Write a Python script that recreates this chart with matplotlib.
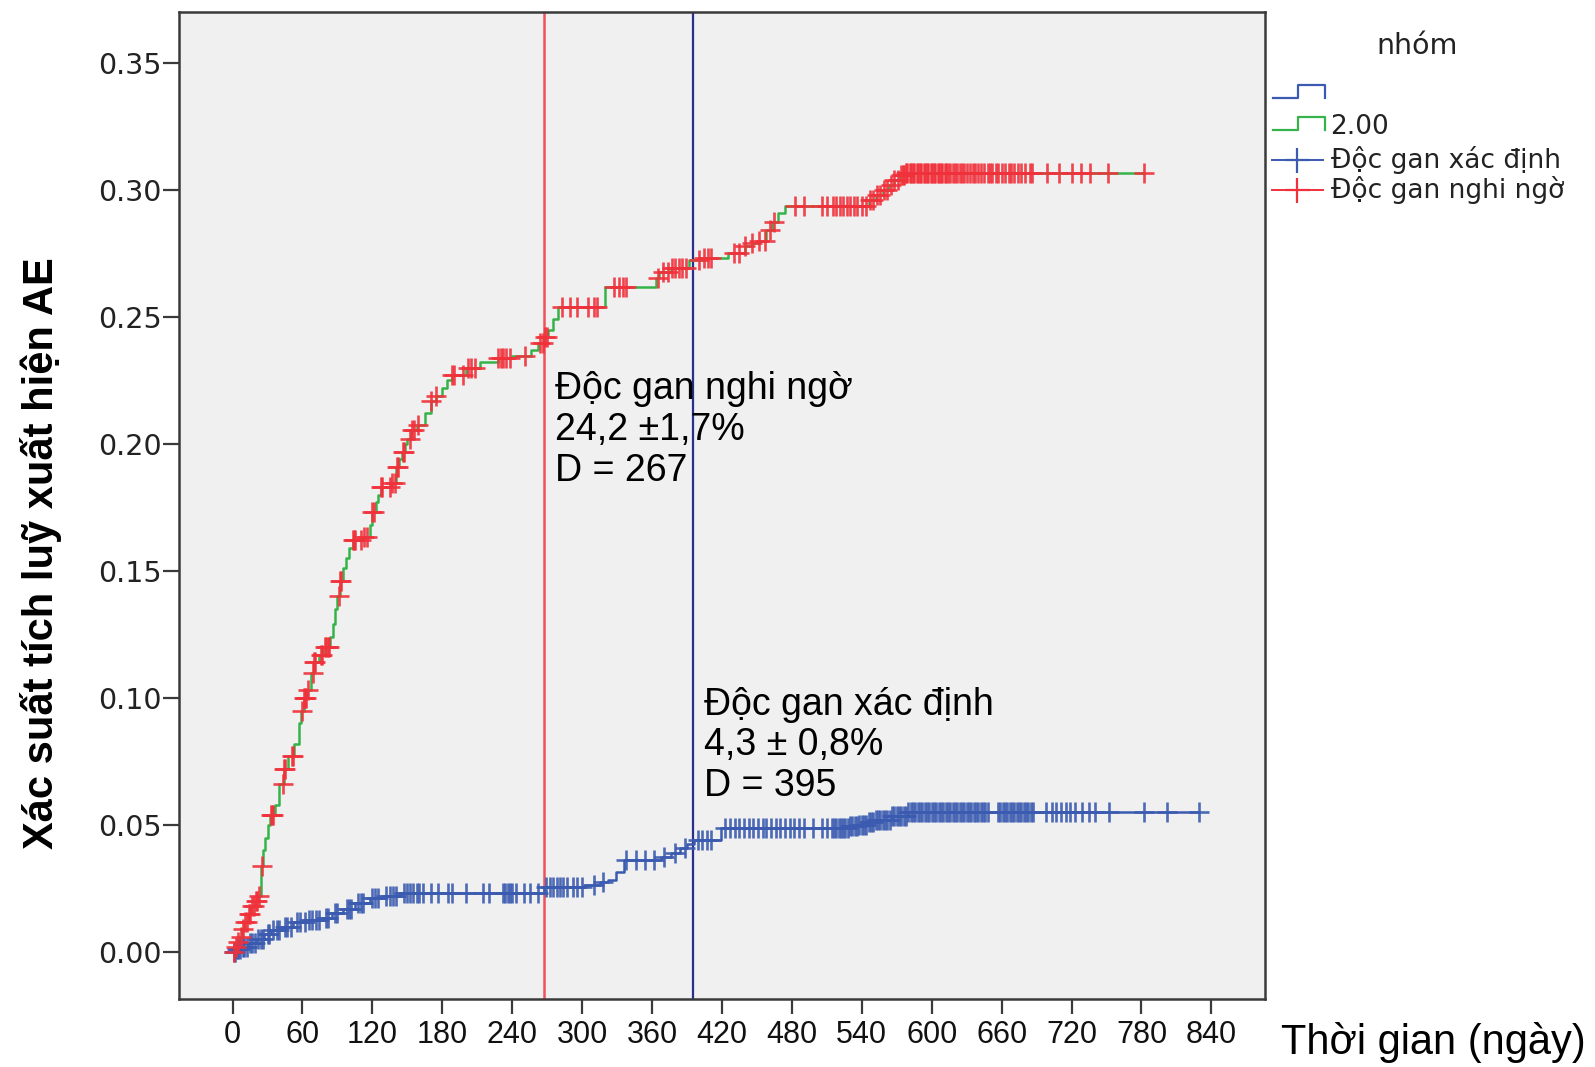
import numpy as np
import matplotlib.pyplot as plt
from matplotlib.lines import Line2D

# --- data ---
# "Độc gan nghi ngờ" (group 2.00): event times and cumulative probability
red_t = [0, 2, 4, 6, 8, 10, 13, 16, 19, 22, 24, 26, 28, 30, 32, 36, 40, 44, 48, 53,
         57, 59, 61, 64, 67, 70, 74, 78, 84, 86, 88, 90, 92, 95, 97, 100, 103, 112,
         118, 120, 123, 125, 127, 137, 140, 143, 145, 148, 150, 153, 158, 165, 170,
         175, 180, 184, 188, 200, 212, 228, 240, 256, 262, 267, 271, 275, 279, 320,
         363, 366, 376, 392, 405, 425, 440, 446, 452, 458, 463, 468, 474, 546, 552,
         558, 563, 568, 573, 577]
red_p = [0, .002, .004, .006, .009, .012, .015, .018, .020, .022, .034, .040, .045,
         .050, .054, .058, .066, .072, .077, .082, .090, .095, .100, .103, .110, .114,
         .117, .120, .124, .129, .135, .140, .146, .151, .155, .159, .162, .1635, .168,
         .173, .177, .180, .183, .1845, .191, .194, .197, .200, .202, .2055, .2075,
         .212, .2167, .219, .222, .225, .2272, .2298, .2324, .2337, .2344, .237, .2396,
         .2422, .2449, .249, .254, .2619, .2652, .2678, .2692, .2724, .2731, .2751,
         .2777, .279, .280, .284, .2875, .291, .2935, .296, .298, .300, .302, .304,
         .306, .3067]
red_cens = [1, 3, 5, 7, 9, 11, 12, 14, 15, 17, 18, 20, 21, 23, 25, 33, 34, 35, 43, 44,
            45, 51, 52, 60, 61, 62, 63, 65, 69, 70, 71, 76, 77, 79, 80, 82, 83, 91, 92,
            93, 103, 104, 105, 110, 113, 115, 120, 121, 127, 128, 135, 137, 139, 141,
            142, 146, 147, 152, 154, 156, 159, 170, 175, 188, 190, 198, 202, 205, 208,
            228, 230, 232, 235, 238, 251, 264, 266, 268, 270, 283, 290, 296, 305, 310,
            313, 327, 332, 335, 338, 365, 369, 374, 377, 380, 383, 386, 389, 400, 405,
            408, 411, 430, 435, 440, 446, 452, 457, 461, 465, 483, 490, 506, 510, 515,
            518, 521, 524, 527, 530, 533, 536, 540, 544, 547, 550, 553, 556, 559, 562,
            565, 568, 571, 574, 575, 576, 578, 579, 581, 582, 584, 585, 587, 588, 590,
            591, 593, 594, 596, 597, 599, 600, 602, 603, 605, 606, 608, 609, 611, 612,
            614, 616, 618, 620, 622, 624, 626, 628, 630, 633, 635, 637, 640, 642, 645,
            648, 650, 652, 655, 657, 660, 663, 666, 668, 671, 674, 677, 680, 684, 686,
            699, 709, 720, 728, 736, 751, 782]

# "Độc gan xác định"
blue_t = [0, 3, 8, 13, 20, 27, 33, 42, 52, 65, 78, 85, 95, 105, 118, 130, 144, 267,
          302, 315, 322, 329, 336, 368, 376, 384, 390, 396, 419, 522, 530, 538, 546,
          552, 566, 580]
blue_p = [0, .001, .002, .0034, .005, .007, .0087, .010, .0119, .0125, .0135, .0152,
          .017, .0192, .0211, .022, .0231, .0257, .0264, .0275, .0283, .0316, .0362,
          .0375, .039, .041, .0425, .0441, .0487, .049, .0495, .050, .051, .052, .0535,
          .0552]
blue_cens = [1, 2, 4, 5, 6, 9, 10, 12, 15, 17, 19, 22, 24, 26, 30, 31, 35, 38, 40, 45,
             47, 50, 55, 58, 62, 66, 68, 72, 74, 80, 82, 88, 90, 98, 100, 102, 108, 110,
             112, 120, 122, 125, 132, 135, 138, 140, 147, 150, 152, 155, 158, 160, 163,
             170, 176, 185, 188, 200, 215, 220, 232, 234, 236, 238, 240, 243, 250, 255,
             262, 269, 272, 275, 278, 281, 284, 287, 292, 296, 300, 310, 318, 338, 346,
             354, 362, 370, 380, 388, 399, 403, 407, 411, 423, 427, 431, 435, 439, 443,
             447, 451, 455, 458, 462, 466, 470, 474, 478, 482, 486, 490, 498, 506, 510,
             514, 516, 518, 520, 522, 524, 526, 528, 530, 532, 534, 536, 538, 540, 542,
             544, 546, 548, 550, 552, 554, 556, 558, 560, 562, 564, 566, 568, 570, 572,
             574, 576, 578, 580, 582, 584, 586, 588, 590, 592, 594, 596, 598, 600, 602,
             604, 606, 608, 610, 612, 614, 616, 618, 620, 622, 624, 626, 628, 630, 632,
             634, 636, 638, 640, 642, 644, 646, 648, 657, 659, 661, 663, 665, 667, 669,
             671, 673, 675, 677, 679, 681, 683, 685, 687, 698, 703, 707, 711, 715, 719,
             723, 729, 735, 740, 752, 782, 802, 829]

median_days = [267, 395]
x_ticks = np.arange(0, 841, 60)
y_ticks = np.arange(0, 0.351, 0.05)

RED = '#f0313b'
GREEN = '#35b34a'
BLUE = '#3b5bb0'
NAVY = '#2a2f8c'
FRAME = '#3a3a3a'


def step_value(t_ev, p_ev, t):
    idx = np.searchsorted(t_ev, t, side='right') - 1
    return np.asarray(p_ev)[idx]


fig = plt.figure(figsize=(15.95, 10.67), dpi=100)
fig.patch.set_facecolor('white')
ax = fig.add_axes([0.1122, 0.0637, 0.6809, 0.9251])
ax.set_facecolor('#f0f0f0')

# blue curve
bt = np.append(blue_t, blue_cens[-1])
bp = np.append(blue_p, blue_p[-1])
ax.step(bt, bp, where='post', color=BLUE, lw=1.8, zorder=3)
ax.plot(blue_cens, step_value(blue_t, blue_p, blue_cens), ls='none', marker='+',
        ms=15, mew=1.9, color=BLUE, alpha=0.9, zorder=4)

# red / green curve
rt = np.append(red_t, red_cens[-1])
rp = np.append(red_p, red_p[-1])
ax.step(rt, rp, where='post', color=GREEN, lw=1.8, zorder=3)
ax.plot(red_cens, step_value(red_t, red_p, red_cens), ls='none', marker='+',
        ms=15, mew=1.9, color=RED, alpha=0.9, zorder=4)

ax.axvline(median_days[0], color='#f0505a', lw=1.8, zorder=2)
ax.axvline(median_days[1], color=NAVY, lw=1.6, zorder=2)

ax.text(277, 0.2054, 'Độc gan nghi ngờ\n24,2 ±1,7%\nD = 267', ha='left', va='center',
        fontsize=27, family='Liberation Sans', linespacing=1.17, zorder=5)
ax.text(405, 0.0813, 'Độc gan xác định\n4,3 ± 0,8%\nD = 395', ha='left', va='center',
        fontsize=27, family='Liberation Sans', linespacing=1.17, zorder=5)

ax.set_xlim(-46, 886)
ax.set_ylim(-0.0185, 0.370)
ax.set_xticks(x_ticks)
ax.set_yticks(y_ticks)
ax.set_yticklabels([f'{v:.2f}' for v in y_ticks], family='DejaVu Sans', fontsize=20.5)
ax.set_xticklabels([str(v) for v in x_ticks], family='Liberation Sans', fontsize=22)
ax.tick_params(axis='y', length=11.5, width=1.6, color=FRAME, pad=1, labelcolor='#222222')
ax.tick_params(axis='x', length=11, width=1.6, color=FRAME, pad=4, labelcolor='#111111')
for s in ax.spines.values():
    s.set_color(FRAME)
    s.set_linewidth(1.8)

fig.text(0.0255, 0.4814, 'Xác suất tích luỹ xuất hiện AE', rotation=90, ha='center',
         va='center', fontsize=30, fontweight='bold', family='Liberation Sans')
fig.text(0.8988, 0.0229, 'Thời gian (ngày)', ha='center', va='center', fontsize=30,
         family='Liberation Sans')

# legend drawn by hand (SPSS style)
W, H = 1595.0, 1067.0


def fx(px):
    return px / W


def fy(py):
    return 1 - py / H


fig.text(fx(1417), fy(46), 'nhóm', ha='center', va='center', fontsize=20.5,
         family='DejaVu Sans', color='#222222')
for (ylow, yhigh, col) in [(98, 85, BLUE), (130, 117, GREEN)]:
    xs = [1273, 1298, 1298, 1325, 1325]
    ys = [ylow, ylow, yhigh, yhigh, ylow]
    fig.add_artist(Line2D([fx(v) for v in xs], [fy(v) for v in ys], color=col, lw=1.6))
for (yy, col) in [(160, BLUE), (190, RED)]:
    fig.add_artist(Line2D([fx(1272), fx(1323)], [fy(yy), fy(yy)], color=col, lw=1.4))
    fig.add_artist(Line2D([fx(1297)], [fy(yy)], marker='+', ms=18, mew=1.6, color=col))
fig.text(fx(1330), fy(127), '2.00', ha='left', va='center', fontsize=19,
         family='DejaVu Sans', color='#222222')
fig.text(fx(1331), fy(160), 'Độc gan xác định', ha='left', va='center', fontsize=19,
         family='DejaVu Sans', color='#222222')
fig.text(fx(1331), fy(190), 'Độc gan nghi ngờ', ha='left', va='center', fontsize=19,
         family='DejaVu Sans', color='#222222')

fig.savefig('out.png', dpi=100)
